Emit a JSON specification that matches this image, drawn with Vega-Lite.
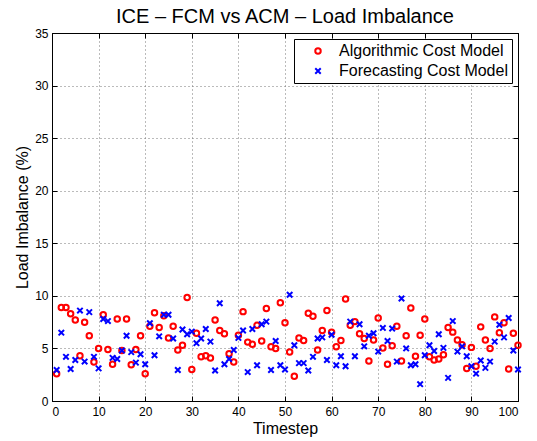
{
  "$schema": "https://vega.github.io/schema/vega-lite/v6.json",
  "width": 466,
  "height": 368,
  "autosize": "none",
  "padding": {"left": 52, "top": 33, "right": 19, "bottom": 40},
  "background": "white",
  "title": {"text": "ICE – FCM vs ACM – Load Imbalance", "fontSize": 20, "font": "Liberation Sans", "fontWeight": "normal", "anchor": "middle", "offset": 0, "color": "black"},
  "config": {
    "view": {"stroke": "black", "strokeWidth": 1},
    "font": "Liberation Sans",
    "axis": {
      "labelFontSize": 12, "labelColor": "black", "labelFont": "Liberation Sans",
      "titleFontSize": 16, "titleFontWeight": "normal", "titleColor": "black", "titleFont": "Liberation Sans",
      "domainColor": "black", "tickColor": "black", "tickSize": -5,
      "gridColor": "#777", "gridDash": [1, 3], "gridOpacity": 1
    }
  },
  "data": {"values": [
    {"t":1,"ACM":2.6,"FCM":2.95},{"t":2,"ACM":8.9,"FCM":6.5},{"t":3,"ACM":8.9,"FCM":4.2},{"t":4,"ACM":8.3,"FCM":3.05},{"t":5,"ACM":7.7,"FCM":3.9},
    {"t":6,"ACM":4.3,"FCM":8.6},{"t":7,"ACM":7.5,"FCM":3.75},{"t":8,"ACM":6.2,"FCM":8.45},{"t":9,"ACM":3.7,"FCM":4.2},{"t":10,"ACM":5.0,"FCM":3.1},
    {"t":11,"ACM":8.2,"FCM":7.8},{"t":12,"ACM":4.9,"FCM":7.6},{"t":13,"ACM":3.5,"FCM":4.1},{"t":14,"ACM":7.8,"FCM":4.0},{"t":15,"ACM":4.8,"FCM":4.8},
    {"t":16,"ACM":7.8,"FCM":6.2},{"t":17,"ACM":3.45,"FCM":4.65},{"t":18,"ACM":4.9,"FCM":3.65},{"t":19,"ACM":6.2,"FCM":4.45},{"t":20,"ACM":2.6,"FCM":3.5},
    {"t":21,"ACM":7.1,"FCM":7.4},{"t":22,"ACM":8.4,"FCM":4.35},{"t":23,"ACM":7.0,"FCM":6.15},{"t":24,"ACM":8.1,"FCM":8.2},{"t":25,"ACM":6.0,"FCM":8.2},
    {"t":26,"ACM":7.1,"FCM":5.95},{"t":27,"ACM":4.85,"FCM":2.95},{"t":28,"ACM":5.3,"FCM":6.8},{"t":29,"ACM":9.85,"FCM":6.35},{"t":30,"ACM":3.0,"FCM":6.6},
    {"t":31,"ACM":6.45,"FCM":5.5},{"t":32,"ACM":4.2,"FCM":5.95},{"t":33,"ACM":4.3,"FCM":6.85},{"t":34,"ACM":4.1,"FCM":5.65},{"t":35,"ACM":7.7,"FCM":2.9},
    {"t":36,"ACM":6.7,"FCM":9.3},{"t":37,"ACM":6.4,"FCM":3.5},{"t":38,"ACM":4.5,"FCM":4.0},{"t":39,"ACM":3.7,"FCM":4.85},{"t":40,"ACM":6.25,"FCM":6.0},
    {"t":41,"ACM":8.5,"FCM":6.7},{"t":42,"ACM":5.6,"FCM":2.75},{"t":43,"ACM":5.4,"FCM":6.85},{"t":44,"ACM":7.2,"FCM":3.4},{"t":45,"ACM":5.7,"FCM":7.3},
    {"t":46,"ACM":8.8,"FCM":7.55},{"t":47,"ACM":5.15,"FCM":2.95},{"t":48,"ACM":5.0,"FCM":5.7},{"t":49,"ACM":9.35,"FCM":3.4},{"t":50,"ACM":7.45,"FCM":3.0},
    {"t":51,"ACM":4.65,"FCM":10.1},{"t":52,"ACM":2.35,"FCM":5.3},{"t":53,"ACM":6.0,"FCM":3.6},{"t":54,"ACM":5.75,"FCM":3.6},{"t":55,"ACM":8.35,"FCM":2.9},
    {"t":56,"ACM":8.05,"FCM":4.2},{"t":57,"ACM":4.85,"FCM":5.95},{"t":58,"ACM":6.7,"FCM":6.05},{"t":59,"ACM":8.6,"FCM":3.9},{"t":60,"ACM":6.55,"FCM":6.3},
    {"t":61,"ACM":5.15,"FCM":3.4},{"t":62,"ACM":5.75,"FCM":4.25},{"t":63,"ACM":9.7,"FCM":3.3},{"t":64,"ACM":7.2,"FCM":7.55},{"t":65,"ACM":7.55,"FCM":4.25},
    {"t":66,"ACM":6.4,"FCM":7.3},{"t":67,"ACM":5.95,"FCM":5.2},{"t":68,"ACM":3.8,"FCM":6.2},{"t":69,"ACM":5.8,"FCM":6.45},{"t":70,"ACM":7.9,"FCM":4.7},
    {"t":71,"ACM":5.05,"FCM":6.95},{"t":72,"ACM":3.5,"FCM":5.7},{"t":73,"ACM":5.25,"FCM":6.9},{"t":74,"ACM":7.1,"FCM":3.75},{"t":75,"ACM":3.8,"FCM":9.75},
    {"t":76,"ACM":6.2,"FCM":5.0},{"t":77,"ACM":8.85,"FCM":3.4},{"t":78,"ACM":4.25,"FCM":3.5},{"t":79,"ACM":6.25,"FCM":1.6},{"t":80,"ACM":7.8,"FCM":4.35},
    {"t":81,"ACM":4.2,"FCM":5.3},{"t":82,"ACM":3.9,"FCM":4.75},{"t":83,"ACM":4.0,"FCM":6.35},{"t":84,"ACM":4.4,"FCM":5.05},{"t":85,"ACM":7.0,"FCM":2.2},
    {"t":86,"ACM":6.55,"FCM":7.6},{"t":87,"ACM":5.8,"FCM":4.7},{"t":88,"ACM":5.35,"FCM":5.2},{"t":89,"ACM":3.1,"FCM":4.25},{"t":90,"ACM":5.1,"FCM":3.3},
    {"t":91,"ACM":3.3,"FCM":2.6},{"t":92,"ACM":7.05,"FCM":3.85},{"t":93,"ACM":5.8,"FCM":3.15},{"t":94,"ACM":5.0,"FCM":3.75},{"t":95,"ACM":8.0,"FCM":5.65},
    {"t":96,"ACM":6.5,"FCM":7.25},{"t":97,"ACM":7.45,"FCM":6.05},{"t":98,"ACM":3.05,"FCM":7.9},{"t":99,"ACM":6.45,"FCM":4.8},{"t":100,"ACM":5.3,"FCM":3.0}
  ]},
  "transform": [{"fold": ["ACM", "FCM"], "as": ["model", "v"]}],
  "layer": [
    {
      "mark": {"type": "point", "filled": false, "strokeWidth": 2, "opacity": 1, "size": 30},
      "encoding": {
        "x": {"field": "t", "type": "quantitative", "scale": {"domain": [0, 100], "nice": false},
              "axis": {"title": "Timestep", "values": [0,10,20,30,40,50,60,70,80,90,100], "grid": true, "labelPadding": 10, "titlePadding": 3}},
        "y": {"field": "v", "type": "quantitative", "scale": {"domain": [0, 35], "nice": false},
              "axis": {"title": "Load Imbalance (%)", "values": [0,5,10,15,20,25,30,35], "grid": true, "labelPadding": 9, "titlePadding": 4}},
        "color": {"field": "model", "type": "nominal",
                  "scale": {"domain": ["ACM", "FCM"], "range": ["#ff0000", "#0000ff"]},
                  "legend": {"title": null, "orient": "top-right", "offset": 6, "strokeColor": "black", "fillColor": "white",
                             "padding": 4, "labelFontSize": 16, "labelLimit": 400, "labelColor": "black", "labelFont": "Liberation Sans",
                             "symbolSize": 30, "symbolStrokeWidth": 2, "rowPadding": 4, "symbolOffset": 12, "labelOffset": 13,
                             "labelExpr": "datum.label == 'ACM' ? 'Algorithmic Cost Model' : 'Forecasting Cost Model'"}},
        "shape": {"field": "model", "type": "nominal",
                  "scale": {"domain": ["ACM", "FCM"], "range": ["circle", "M-1,-1L1,1M-1,1L1,-1"]}},
        "order": {"field": "model"}
      }
    },
    {
      "mark": {"type": "point", "opacity": 0},
      "encoding": {
        "x": {"field": "t", "type": "quantitative", "axis": {"orient": "top", "labels": false, "title": null, "grid": false, "values": [0,10,20,30,40,50,60,70,80,90,100]}},
        "y": {"field": "v", "type": "quantitative", "axis": {"orient": "right", "labels": false, "title": null, "grid": false, "values": [0,5,10,15,20,25,30,35]}}
      }
    }
  ],
  "resolve": {"axis": {"x": "independent", "y": "independent"}}
}
